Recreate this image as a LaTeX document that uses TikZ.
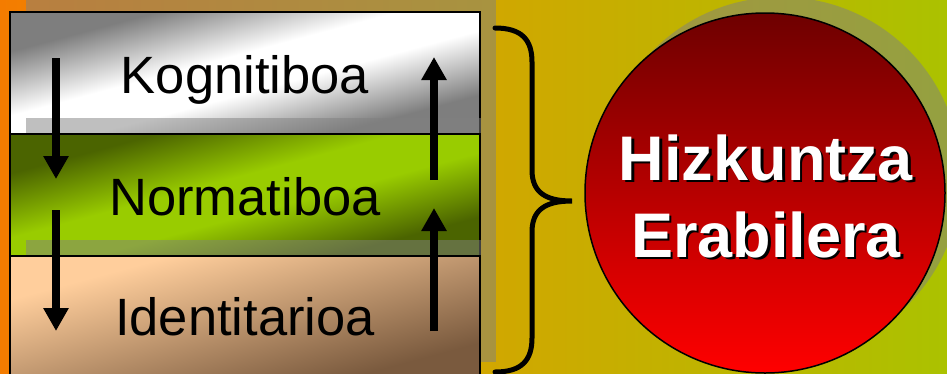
\documentclass[tikz,border=0pt]{standalone}
\usepackage{fontspec}
\setmainfont{Liberation Sans}
\usetikzlibrary{arrows.meta}
\definecolor{bgL}{HTML}{F47C00}
\definecolor{bgM}{HTML}{D2A600}
\definecolor{bgR}{HTML}{ABC200}
\definecolor{grayA}{HTML}{7E7E7E}
\definecolor{grnD}{HTML}{4B6400}
\definecolor{grnM}{HTML}{99CC00}
\definecolor{peach}{HTML}{FFCE9C}
\definecolor{brownD}{HTML}{7A5A3E}
\definecolor{redD}{HTML}{6E0000}
\definecolor{redB}{HTML}{FF0000}
\pgfdeclareverticalshading{kogshade}{100bp}{color(0bp)=(grayA); color(29bp)=(grayA); color(45bp)=(white); color(55bp)=(white); color(71bp)=(grayA); color(100bp)=(grayA)}
\pgfdeclareverticalshading{norshade}{100bp}{color(0bp)=(grnD); color(29bp)=(grnD); color(45bp)=(grnM); color(55bp)=(grnM); color(71bp)=(grnD); color(100bp)=(grnD)}
\pgfdeclareverticalshading{ideshade}{100bp}{color(0bp)=(brownD); color(28bp)=(brownD); color(70bp)=(peach); color(100bp)=(peach)}
\tikzset{
  shadowbox/.style={fill=black!50, fill opacity=0.5, draw=none},
  layerbox/.style={draw=black, line width=1.5pt},
  layertext/.style={anchor=base, font=\fontsize{52.5}{60}\selectfont, text=black, inner sep=0pt},
  flowarrow/.style={line width=8pt, -{Triangle[width=24pt,length=23pt]}},
  titletext/.style={anchor=base, font=\bfseries\fontsize{63}{70}\selectfont, inner sep=0pt, text=white}
}
\newcommand{\shadowed}[1]{\makebox[0pt][l]{\hspace{2.5pt}\raisebox{-2.5pt}{\textcolor{black}{#1}}}#1}
\begin{document}
\begin{tikzpicture}[x=1pt,y=-1pt]
\useasboundingbox (0,0) rectangle (947,373);
\clip (0,0) rectangle (947,373);
% background
\shade[left color=bgL, right color=bgR, middle color=bgM] (0,0) rectangle (947,373);
% layer 1
\fill[shadowbox] (26,-4) rectangle (496,118);
\shade[shading=kogshade, shading angle=15] (10,12) rectangle (480,134);
\draw[layerbox] (10,12) rectangle (480,134);
% layer 2
\fill[shadowbox] (26,118) rectangle (496,240);
\shade[shading=norshade, shading angle=15] (10,134) rectangle (480,256);
\draw[layerbox] (10,134) rectangle (480,256);
% layer 3
\fill[shadowbox] (26,240) rectangle (496,362);
\shade[shading=ideshade, shading angle=15] (10,256) rectangle (480,378);
\draw[layerbox] (10,256) rectangle (480,378);
% texts
\node[layertext] (kog) at (245,93) {Kognitiboa};
\node[layertext] (nor) at (245,215) {Normatiboa};
\node[layertext] (ide) at (245,335) {Identitarioa};
% arrows
\coordinate (d1s) at (56,58);
\coordinate (d1e) at (56,179);
\coordinate (d2s) at (56,210);
\coordinate (d2e) at (56,331);
\coordinate (u1s) at (434,180);
\coordinate (u1e) at (434,57);
\coordinate (u2s) at (434,331);
\coordinate (u2e) at (434,208);
\draw[flowarrow] (d1s) -- (d1e);
\draw[flowarrow] (d2s) -- (d2e);
\draw[flowarrow] (u1s) -- (u1e);
\draw[flowarrow] (u2s) -- (u2e);
% brace
\draw[line width=5pt, line cap=round] (495,28) .. controls (522,28) and (532,40) .. (532,62) -- (532,170)
  .. controls (532,192) and (545,201) .. (572,201)
  .. controls (545,201) and (532,210) .. (532,232) -- (532,338)
  .. controls (532,360) and (522,372) .. (495,372);
% circle
\fill[black!50, fill opacity=0.5] (781,177) circle (180pt);
\node[circle, minimum size=360pt, inner sep=0pt, draw=black, line width=1.5pt, top color=redD, bottom color=redB] (use) at (765,193) {};
\node[titletext] (h1) at (766,180) {\shadowed{Hizkuntza}};
\node[titletext] (h2) at (766,257) {\shadowed{Erabilera}};
\end{tikzpicture}
\end{document}
